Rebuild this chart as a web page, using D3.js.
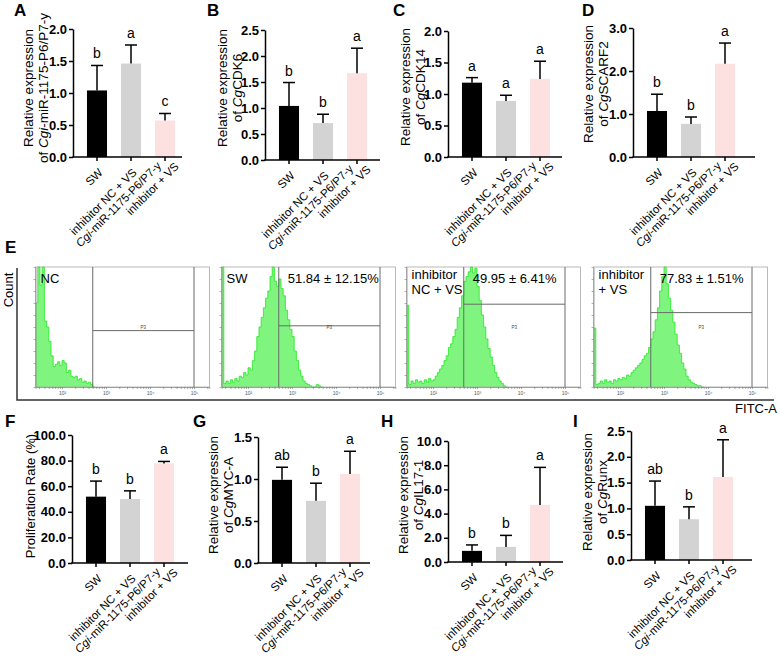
<!DOCTYPE html>
<html>
<head>
<meta charset="utf-8">
<script src="https://cdn.jsdelivr.net/npm/d3@7"></script>
<style>
body { margin: 0; background: #fff; }
svg { font-family: "Liberation Sans", Arial, sans-serif; }
</style>
</head>
<body>
<svg id="fig" width="779" height="659"></svg>
<script>
// groups shown on every bar chart
var groups = ["SW", "inhibitor NC + VS", "Cgi-miR-1175-P6/P7-y inhibitor + VS"];
var barColors = ["#000000", "#d3d3d3", "#fde0e0"];

// A - miR expression
var mirMean = [1.04, 1.46, 0.57];
var mirSd = [0.39, 0.29, 0.11];
var mirSig = ["b", "a", "c"];
// B - CgCDK6
var cdk6Mean = [1.04, 0.71, 1.67];
var cdk6Sd = [0.45, 0.17, 0.48];
var cdk6Sig = ["b", "b", "a"];
// C - CgCDK14
var cdk14Mean = [1.18, 0.89, 1.24];
var cdk14Sd = [0.08, 0.09, 0.28];
var cdk14Sig = ["a", "a", "a"];
// D - CgSCARF2
var scarfMean = [1.07, 0.77, 2.17];
var scarfSd = [0.39, 0.16, 0.48];
var scarfSig = ["b", "b", "a"];
// F - proliferation rate (%)
var rateMean = [51.84, 49.95, 77.83];
var rateSd = [12.15, 6.41, 1.51];
var rateSig = ["b", "b", "a"];
// G - CgMYC-A
var mycMean = [0.99, 0.74, 1.06];
var mycSd = [0.15, 0.21, 0.27];
var mycSig = ["ab", "b", "a"];
// H - CgIL17-1
var il17Mean = [0.92, 1.25, 4.72];
var il17Sd = [0.49, 0.95, 3.1];
var il17Sig = ["b", "b", "a"];
// I - CgRunx
var runxMean = [1.05, 0.79, 1.61];
var runxSd = [0.48, 0.24, 0.72];
var runxSig = ["ab", "b", "a"];

// E - flow histograms, counts in % of panel height, bins of 0.05 log10 units from 10^1.4
var flowNames = [["NC"], ["SW"], ["inhibitor", "NC + VS"], ["inhibitor", "+ VS"]];
var histNC = [70, 100, 85, 100, 55, 50, 38, 26, 17, 19, 21, 18, 22, 20, 12, 14, 9, 8, 9, 6, 7, 4, 5, 3, 4, 2, 0];
var histSW = [100, 3, 5, 3, 6, 4, 7, 5, 9, 8, 12, 10, 16, 14, 22, 30, 42, 50, 58, 66, 74, 80, 92, 100, 88, 84, 90, 82, 76, 64, 56, 48, 42, 30, 22, 14, 9, 5, 3, 2, 1, 0, 0, 2, 1, 0];
var histNCVS = [68, 2, 5, 3, 6, 4, 5, 3, 6, 4, 7, 5, 6, 9, 12, 15, 18, 22, 26, 33, 36, 42, 48, 58, 66, 76, 88, 92, 96, 100, 95, 99, 84, 72, 60, 50, 40, 32, 25, 18, 12, 8, 5, 3, 1, 0];
var histInhVS = [49, 2, 3, 5, 3, 6, 4, 5, 3, 6, 5, 7, 6, 8, 7, 10, 9, 12, 14, 16, 18, 20, 23, 26, 28, 33, 40, 46, 56, 66, 80, 92, 100, 86, 74, 64, 54, 44, 35, 28, 20, 15, 9, 6, 4, 3, 2, 1, 1, 0];
var gateLevels = [47, 51, 69, 62];
var gateLow = 500, gateHigh = 100000;

var svg = d3.select("#fig");
var fmt1 = d3.format(".1f");

function panelLetter(t, x, y) {
  svg.append("text").attr("x", x).attr("y", y)
    .attr("font-size", 17).attr("font-weight", "bold").text(t);
}

function barPanel(p) {
  var g = svg.append("g");
  var y = d3.scaleLinear().domain([0, p.max]).range([p.base, p.top]);
  var x = d3.scaleBand().domain(groups)
    .range([p.ax + 7, p.ax + 109]).paddingInner(0.41).paddingOuter(0.205);
  var rows = groups.map(function (k, i) {
    return {key: k, m: p.mean[i], sd: p.sd[i], sig: p.sig[i], c: barColors[i]};
  });
  var cx = function (d) { return x(d.key) + x.bandwidth() / 2; };

  g.selectAll("rect").data(rows).enter().append("rect")
    .attr("x", function (d) { return x(d.key); })
    .attr("width", x.bandwidth())
    .attr("y", function (d) { return y(d.m); })
    .attr("height", function (d) { return y(0) - y(d.m); })
    .attr("fill", function (d) { return d.c; });

  // error bars, upper half only
  var eb = g.selectAll("g.err").data(rows).enter().append("g").attr("class", "err");
  eb.append("line")
    .attr("x1", cx).attr("x2", cx)
    .attr("y1", function (d) { return y(d.m); })
    .attr("y2", function (d) { return y(d.m + d.sd); })
    .attr("stroke", "#000").attr("stroke-width", 1.5);
  eb.append("line")
    .attr("x1", function (d) { return cx(d) - 6; })
    .attr("x2", function (d) { return cx(d) + 6; })
    .attr("y1", function (d) { return y(d.m + d.sd); })
    .attr("y2", function (d) { return y(d.m + d.sd); })
    .attr("stroke", "#000").attr("stroke-width", 1.5);
  eb.append("text")
    .attr("x", cx)
    .attr("y", function (d) { return y(d.m + d.sd) - 7; })
    .attr("text-anchor", "middle").attr("font-size", 14)
    .text(function (d) { return d.sig; });

  // y axis
  var ya = g.append("g").attr("transform", "translate(" + p.ax + ",0)")
    .call(d3.axisLeft(y)
      .tickValues(d3.range(0, p.max + 1e-9, p.step))
      .tickSize(4).tickSizeOuter(0).tickPadding(2)
      .tickFormat(fmt1));
  ya.attr("font-family", null).attr("font-size", 13).attr("font-weight", "bold");
  ya.selectAll("path, line").attr("stroke-width", 1.5);
  ya.selectAll("text").attr("fill", "#000");

  // x axis line and ticks
  g.append("line").attr("x1", p.ax - 0.75).attr("x2", p.xEnd)
    .attr("y1", p.base).attr("y2", p.base)
    .attr("stroke", "#000").attr("stroke-width", 1.5);
  g.selectAll("line.xt").data(rows).enter().append("line")
    .attr("x1", cx).attr("x2", cx)
    .attr("y1", p.base).attr("y2", p.base + 4)
    .attr("stroke", "#000").attr("stroke-width", 1.5);

  // rotated group labels
  rows.forEach(function (d, i) {
    var t = g.append("text")
      .attr("transform", "translate(" + cx(d) + "," + p.base + ") rotate(-45)")
      .attr("text-anchor", "end").attr("font-size", 11.5);
    if (i < 2) {
      t.append("tspan").attr("x", -7).attr("y", 16).text(d.key);
    } else {
      var l1 = t.append("tspan").attr("x", -9).attr("y", 4.5);
      l1.append("tspan").attr("font-style", "italic").text("Cgi");
      l1.append("tspan").text("-miR-1175-P6/P7-y");
      t.append("tspan").attr("x", 3).attr("y", 17.5).text("inhibitor + VS");
    }
  });

  // axis title
  var tt = g.append("text")
    .attr("transform", "translate(" + p.tx + "," + p.ty + ") rotate(-90)")
    .attr("text-anchor", "middle").attr("font-size", p.tsize || 13.5);
  p.title.forEach(function (line, i) {
    var ts = tt.append("tspan").attr("x", 0).attr("y", i * 15).attr("dy", "0.35em");
    line.forEach(function (seg) {
      var s = ts.append("tspan").text(seg[0]);
      if (seg[1]) s.attr("font-style", "italic");
    });
  });

  panelLetter(p.letter, p.lx, p.ly);
}

function gene(name) {
  return [[["Relative expression"]], [["of "], ["Cg", true], [name]]];
}

barPanel({letter: "A", lx: 14, ly: 16, ax: 73, xEnd: 182, base: 157, top: 29, max: 2, step: 0.5,
  mean: mirMean, sd: mirSd, sig: mirSig, tx: 28, ty: 88,
  title: [[["Relative expression"]], [["of "], ["Cgi", true], ["-miR-1175-P6/P7-y"]]]});
barPanel({letter: "B", lx: 207, ly: 16, ax: 265, xEnd: 380, base: 160, top: 30, max: 2.5, step: 0.5,
  mean: cdk6Mean, sd: cdk6Sd, sig: cdk6Sig, tx: 222, ty: 88, title: gene("CDK6")});
barPanel({letter: "C", lx: 393, ly: 16, ax: 448, xEnd: 562, base: 157, top: 31, max: 2, step: 0.5,
  mean: cdk14Mean, sd: cdk14Sd, sig: cdk14Sig, tx: 405, ty: 87, title: gene("CDK14")});
barPanel({letter: "D", lx: 582, ly: 16, ax: 633, xEnd: 755, base: 157, top: 28, max: 3, step: 1,
  mean: scarfMean, sd: scarfSd, sig: scarfSig, tx: 588, ty: 84, title: gene("SCARF2")});

barPanel({letter: "F", lx: 5, ly: 427, ax: 72, xEnd: 188, base: 563, top: 435, max: 100, step: 20,
  mean: rateMean, sd: rateSd, sig: rateSig, tx: 30, ty: 496, tsize: 13,
  title: [[["Proliferation Rate (%)"]]]});
barPanel({letter: "G", lx: 193, ly: 427, ax: 258, xEnd: 370, base: 563, top: 437, max: 1.5, step: 0.5,
  mean: mycMean, sd: mycSd, sig: mycSig, tx: 213, ty: 495, title: gene("MYC-A")});
barPanel({letter: "H", lx: 381, ly: 427, ax: 448, xEnd: 563, base: 562, top: 441, max: 10, step: 2,
  mean: il17Mean, sd: il17Sd, sig: il17Sig, tx: 403, ty: 495, title: gene("IL17-1")});
barPanel({letter: "I", lx: 573, ly: 427, ax: 631, xEnd: 752, base: 560, top: 431, max: 2.5, step: 0.5,
  mean: runxMean, sd: runxSd, sig: runxSig, tx: 587, ty: 492, title: gene("Runx")});

// ---- E: flow cytometry histograms ----
var hists = [histNC, histSW, histNCVS, histInhVS];
var decadeAt = [62, 248, 433, 620];   // pixel of 10^2 in each sub-plot
var fTop = 267, fBot = 387;
var sup = {2: "\u00b2", 3: "\u00b3", 4: "\u2074", 5: "\u2075"};

var minorTicks = [];
[1, 2, 3, 4, 5].forEach(function (e) {
  for (var k = 1; k < 10; k++) {
    var v = k * Math.pow(10, e);
    if (v >= Math.pow(10, 1.4) && v <= Math.pow(10, 5.35)) minorTicks.push(v);
  }
});

hists.forEach(function (h, i) {
  var o = decadeAt[i];
  var xs = d3.scaleLog().domain([Math.pow(10, 1.4), Math.pow(10, 5.35)])
    .range([o - 0.6 * 44, o + 3.35 * 44]);
  var ys = d3.scaleLinear().domain([0, 100]).range([fBot, fTop]);
  var g = svg.append("g");
  var x0 = xs.range()[0], x1 = xs.range()[1];

  var pts = h.map(function (v, j) { return {lv: 1.4 + j * 0.05, c: v}; });
  pts.push({lv: 1.4 + h.length * 0.05, c: 0});
  var area = d3.area()
    .x(function (d) { return xs(Math.pow(10, d.lv)); })
    .y0(fBot).y1(function (d) { return ys(Math.min(d.c, 100)); })
    .curve(d3.curveStepAfter);
  var line = d3.line()
    .x(function (d) { return xs(Math.pow(10, d.lv)); })
    .y(function (d) { return ys(Math.min(d.c, 100)); })
    .curve(d3.curveStepAfter);
  g.append("path").datum(pts).attr("d", area).attr("fill", "#7ff57f");
  g.append("path").datum(pts).attr("d", line).attr("fill", "none")
    .attr("stroke", "#22e822").attr("stroke-width", 0.8);

  // frame
  g.append("rect").attr("x", x0).attr("y", fTop).attr("width", x1 - x0).attr("height", fBot - fTop)
    .attr("fill", "none").attr("stroke", "#a8a8a8").attr("stroke-width", 0.8);

  // axes
  var ya = g.append("g").attr("transform", "translate(" + x0 + ",0)")
    .call(d3.axisLeft(ys).tickValues(d3.range(0, 101, 10)).tickSize(2).tickSizeOuter(0).tickFormat(""));
  ya.selectAll("path, line").attr("stroke", "#777").attr("stroke-width", 0.6);
  var xa = g.append("g").attr("transform", "translate(0," + fBot + ")")
    .call(d3.axisBottom(xs).tickValues(minorTicks).tickSizeOuter(0).tickSize(2).tickPadding(2)
      .tickFormat(function (v) {
        var e = Math.round(Math.log10(v));
        return Math.abs(Math.log10(v) - e) < 1e-6 ? "10" + sup[e] : "";
      }));
  xa.selectAll("path, line").attr("stroke", "#777").attr("stroke-width", 0.6);
  xa.attr("font-size", 5).attr("font-family", null);
  xa.selectAll("text").attr("fill", "#555");

  // gate P3
  var gl = xs(gateLow), gh = xs(gateHigh), gy = ys(gateLevels[i]);
  [gl, gh].forEach(function (gx) {
    g.append("line").attr("x1", gx).attr("x2", gx).attr("y1", fTop).attr("y2", fBot)
      .attr("stroke", "#6a6a6a").attr("stroke-width", 1);
  });
  g.append("line").attr("x1", gl).attr("x2", gh).attr("y1", gy).attr("y2", gy)
    .attr("stroke", "#6a6a6a").attr("stroke-width", 1);
  g.append("text").attr("x", (gl + gh) / 2).attr("y", 329).attr("text-anchor", "middle")
    .attr("font-size", 4.5).attr("fill", "#444").text("P3");

  // sample name and positive rate
  var nm = flowNames[i];
  nm.forEach(function (s, k) {
    g.append("text").attr("x", x0 + 5)
      .attr("y", nm.length === 1 ? 283 : 279 + k * 15)
      .attr("font-size", 13).text(s);
  });
  if (i > 0) {
    g.append("text").attr("x", gl + 9).attr("y", 283).attr("font-size", 13)
      .text(d3.format(".2f")(rateMean[i - 1]) + " \u00b1 " + d3.format(".2f")(rateSd[i - 1]) + "%");
  }
});

// outer axes of E
svg.append("path").attr("d", "M17,268V400H774").attr("fill", "none")
  .attr("stroke", "#333").attr("stroke-width", 1.5);
svg.append("text").attr("transform", "translate(8,290) rotate(-90)")
  .attr("text-anchor", "middle").attr("dy", "0.35em").attr("font-size", 13).text("Count");
svg.append("text").attr("x", 777).attr("y", 413).attr("text-anchor", "end")
  .attr("font-size", 13).text("FITC-A");
panelLetter("E", 5, 253);
</script>
</body>
</html>
